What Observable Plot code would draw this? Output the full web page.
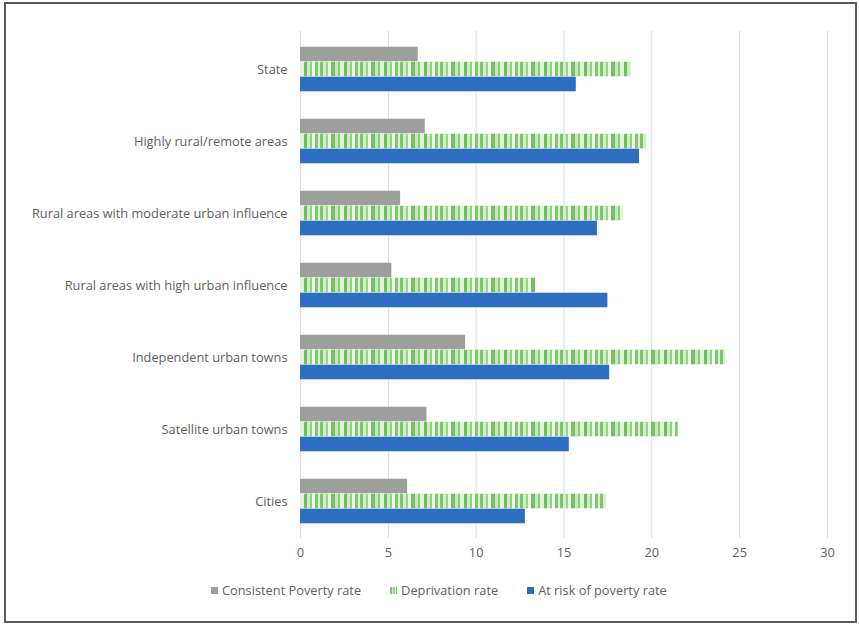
<!DOCTYPE html>
<html>
<head>
<meta charset="utf-8">
<script src="https://cdn.jsdelivr.net/npm/d3@7"></script>
<script src="https://cdn.jsdelivr.net/npm/@observablehq/plot@0.6"></script>
<style>
  html, body { margin: 0; padding: 0; background: #fff; }
  body { position: relative; width: 859px; height: 625px; overflow: hidden; font-family: "Open Sans", sans-serif; }
  #frame { position: absolute; left: 4px; top: 2px; width: 849px; height: 617px; border: 2px solid #5a5a5a; box-sizing: content-box; }
  #chart { position: absolute; left: 0; top: 0; }
  #legend { position: absolute; top: 581px; left: 211px; display: flex; align-items: center; font-size: 12.8px; color: #606060; white-space: nowrap; }
  #legend .item { display: flex; align-items: center; margin-right: 29px; }
  #legend .sw { width: 7px; height: 7px; margin-right: 4px; }
</style>
</head>
<body>
<div id="frame"></div>
<div id="chart"></div>
<div id="legend"></div>
<script>
const categories = [
  "State",
  "Highly rural/remote areas",
  "Rural areas with moderate urban influence",
  "Rural areas with high urban influence",
  "Independent urban towns",
  "Satellite urban towns",
  "Cities"
];
const seriesNames = ["Consistent Poverty rate", "Deprivation rate", "At risk of poverty rate"];
const consistentPoverty = [6.7, 7.1, 5.7, 5.2, 9.4, 7.2, 6.1];
const deprivation      = [18.8, 19.7, 18.4, 13.4, 24.2, 21.5, 17.4];
const atRiskOfPoverty  = [15.7, 19.3, 16.9, 17.5, 17.6, 15.3, 12.8];
const xTicks = [0, 5, 10, 15, 20, 25, 30];

const seriesValues = [consistentPoverty, deprivation, atRiskOfPoverty];
const rows = seriesNames.map((s, i) => categories.map((c, j) => ({category: c, series: s, value: seriesValues[i][j]})));

const greyFill = "#9e9e9e";
const blueFill = "#2e6ec0";
const greenFill = "url(#depPattern)";

const bandH = 15;
const step = (538 - 31) / categories.length;
const inset = (step - bandH) / 2;

const chart = Plot.plot({
  width: 859,
  height: 570,
  marginLeft: 300,
  marginRight: 32,
  marginTop: 31,
  marginBottom: 32,
  style: {fontFamily: "Open Sans, sans-serif", fontSize: "12.8px", color: "#606060", background: "transparent", overflow: "visible"},
  x: {domain: [0, 30], ticks: xTicks, tickSize: 0, tickPadding: 9, label: null},
  y: {domain: categories, padding: 0, tickSize: 0, tickPadding: 13, label: null},
  marks: [
    Plot.ruleX(xTicks, {stroke: "#d9d9d9", strokeWidth: 1}),
    Plot.barX(rows[0], {x: "value", y: "category", fill: greyFill, insetTop: inset, insetBottom: inset, dy: -bandH}),
    Plot.barX(rows[1], {x: "value", y: "category", fill: greenFill, insetTop: inset, insetBottom: inset, dy: 0}),
    Plot.barX(rows[2], {x: "value", y: "category", fill: blueFill, insetTop: inset, insetBottom: inset, dy: bandH})
  ]
});

// pattern for the striped green series
const svg = d3.select(chart);
const defs = svg.insert("defs", ":first-child");
const pat = defs.append("pattern")
  .attr("id", "depPattern")
  .attr("patternUnits", "userSpaceOnUse")
  .attr("width", 40).attr("height", 20);
const stripes = [
  [0, 3, "#7cc66b"], [3, 3, "#d4edcb"], [6, 2, "#9bd38b"], [8, 3, "#edf8e9"],
  [11, 4, "#72c160"], [15, 3, "#c6e7bb"], [18, 2, "#8ccd7a"], [20, 4, "#e2f3dc"],
  [24, 3, "#6dbf5b"], [27, 3, "#cfebc5"], [30, 2, "#92d081"], [32, 3, "#f0f9ec"],
  [35, 3, "#80c86e"], [38, 2, "#d9f0d1"]
];
stripes.forEach(([x, w, c]) => pat.append("rect").attr("x", x).attr("y", 0).attr("width", w).attr("height", 20).attr("fill", c));

document.getElementById("chart").appendChild(chart);

// legend
const legend = d3.select("#legend");
const swatches = [
  {bg: greyFill},
  {bg: "repeating-linear-gradient(90deg, #7cc66b 0 2px, #d4edcb 2px 3px, #9bd38b 3px 5px, #edf8e9 5px 6px)"},
  {bg: blueFill}
];
seriesNames.forEach((name, i) => {
  const item = legend.append("div").attr("class", "item");
  item.append("div").attr("class", "sw").style("background", swatches[i].bg);
  item.append("span").text(name);
});
</script>
</body>
</html>
